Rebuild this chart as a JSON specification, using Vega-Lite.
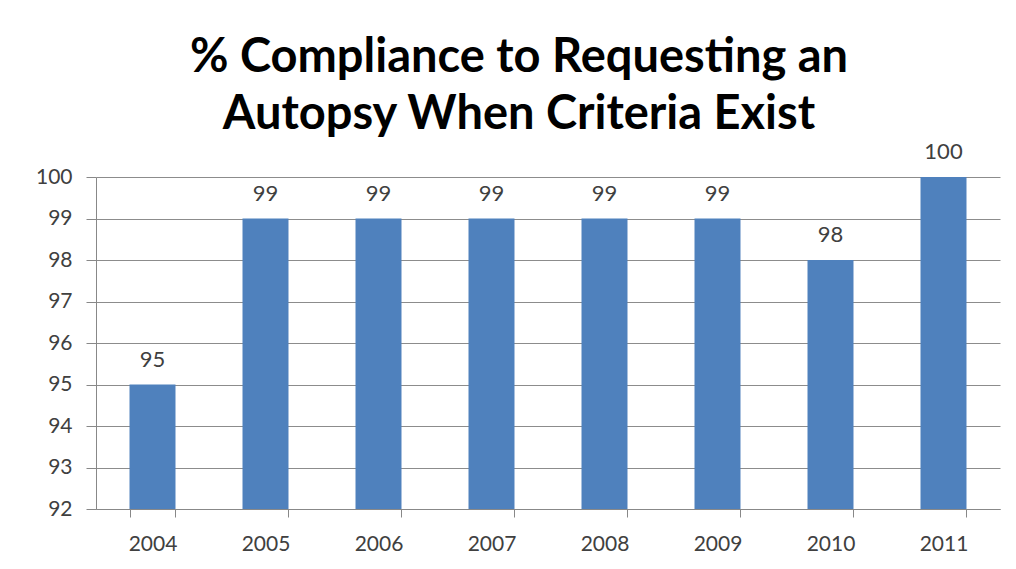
{
  "$schema": "https://vega.github.io/schema/vega-lite/v6.json",
  "width": 904,
  "height": 332,
  "autosize": {"type": "none"},
  "padding": {"left": 96, "top": 177, "right": 16, "bottom": 60},
  "background": "white",
  "title": {
    "text": ["% Compliance to Requesting an", "Autopsy When Criteria Exist"],
    "font": "Lato",
    "fontSize": 47,
    "fontWeight": "bold",
    "color": "#000000",
    "lineHeight": 57,
    "anchor": "middle",
    "dx": -29,
    "offset": 2
  },
  "data": {
    "values": [
      {"year": "2004", "pct": 95},
      {"year": "2005", "pct": 99},
      {"year": "2006", "pct": 99},
      {"year": "2007", "pct": 99},
      {"year": "2008", "pct": 99},
      {"year": "2009", "pct": 99},
      {"year": "2010", "pct": 98},
      {"year": "2011", "pct": 100}
    ]
  },
  "encoding": {
    "x": {
      "field": "year",
      "type": "ordinal",
      "scale": {"paddingInner": 0.593, "paddingOuter": 0.2965},
      "axis": {
        "title": null,
        "labelAngle": 0,
        "tickBand": "extent",
        "grid": false,
        "domainColor": "#888888",
        "tickColor": "#888888",
        "tickSize": 8,
        "labelPadding": 16,
        "labelFont": "Lato",
        "labelFontSize": 21,
        "labelColor": "#404040"
      }
    },
    "y": {
      "field": "pct",
      "type": "quantitative",
      "scale": {"domain": [92, 100], "zero": false, "nice": false},
      "axis": {
        "title": null,
        "values": [92, 93, 94, 95, 96, 97, 98, 99, 100],
        "grid": true,
        "gridColor": "#8c8c8c",
        "domainColor": "#888888",
        "tickColor": "#888888",
        "tickSize": 10,
        "labelPadding": 14,
        "labelOverlap": false,
        "labelFont": "Lato",
        "labelFontSize": 21,
        "labelColor": "#404040"
      }
    }
  },
  "layer": [
    {
      "mark": {"type": "bar", "color": "#4F81BD"},
      "encoding": {"y2": {"datum": 92}}
    },
    {
      "mark": {"type": "text", "baseline": "alphabetic", "dy": -18, "font": "Lato", "fontSize": 22, "color": "#404040"},
      "encoding": {"text": {"field": "pct", "type": "quantitative"}}
    }
  ],
  "config": {"view": {"stroke": null}}
}
